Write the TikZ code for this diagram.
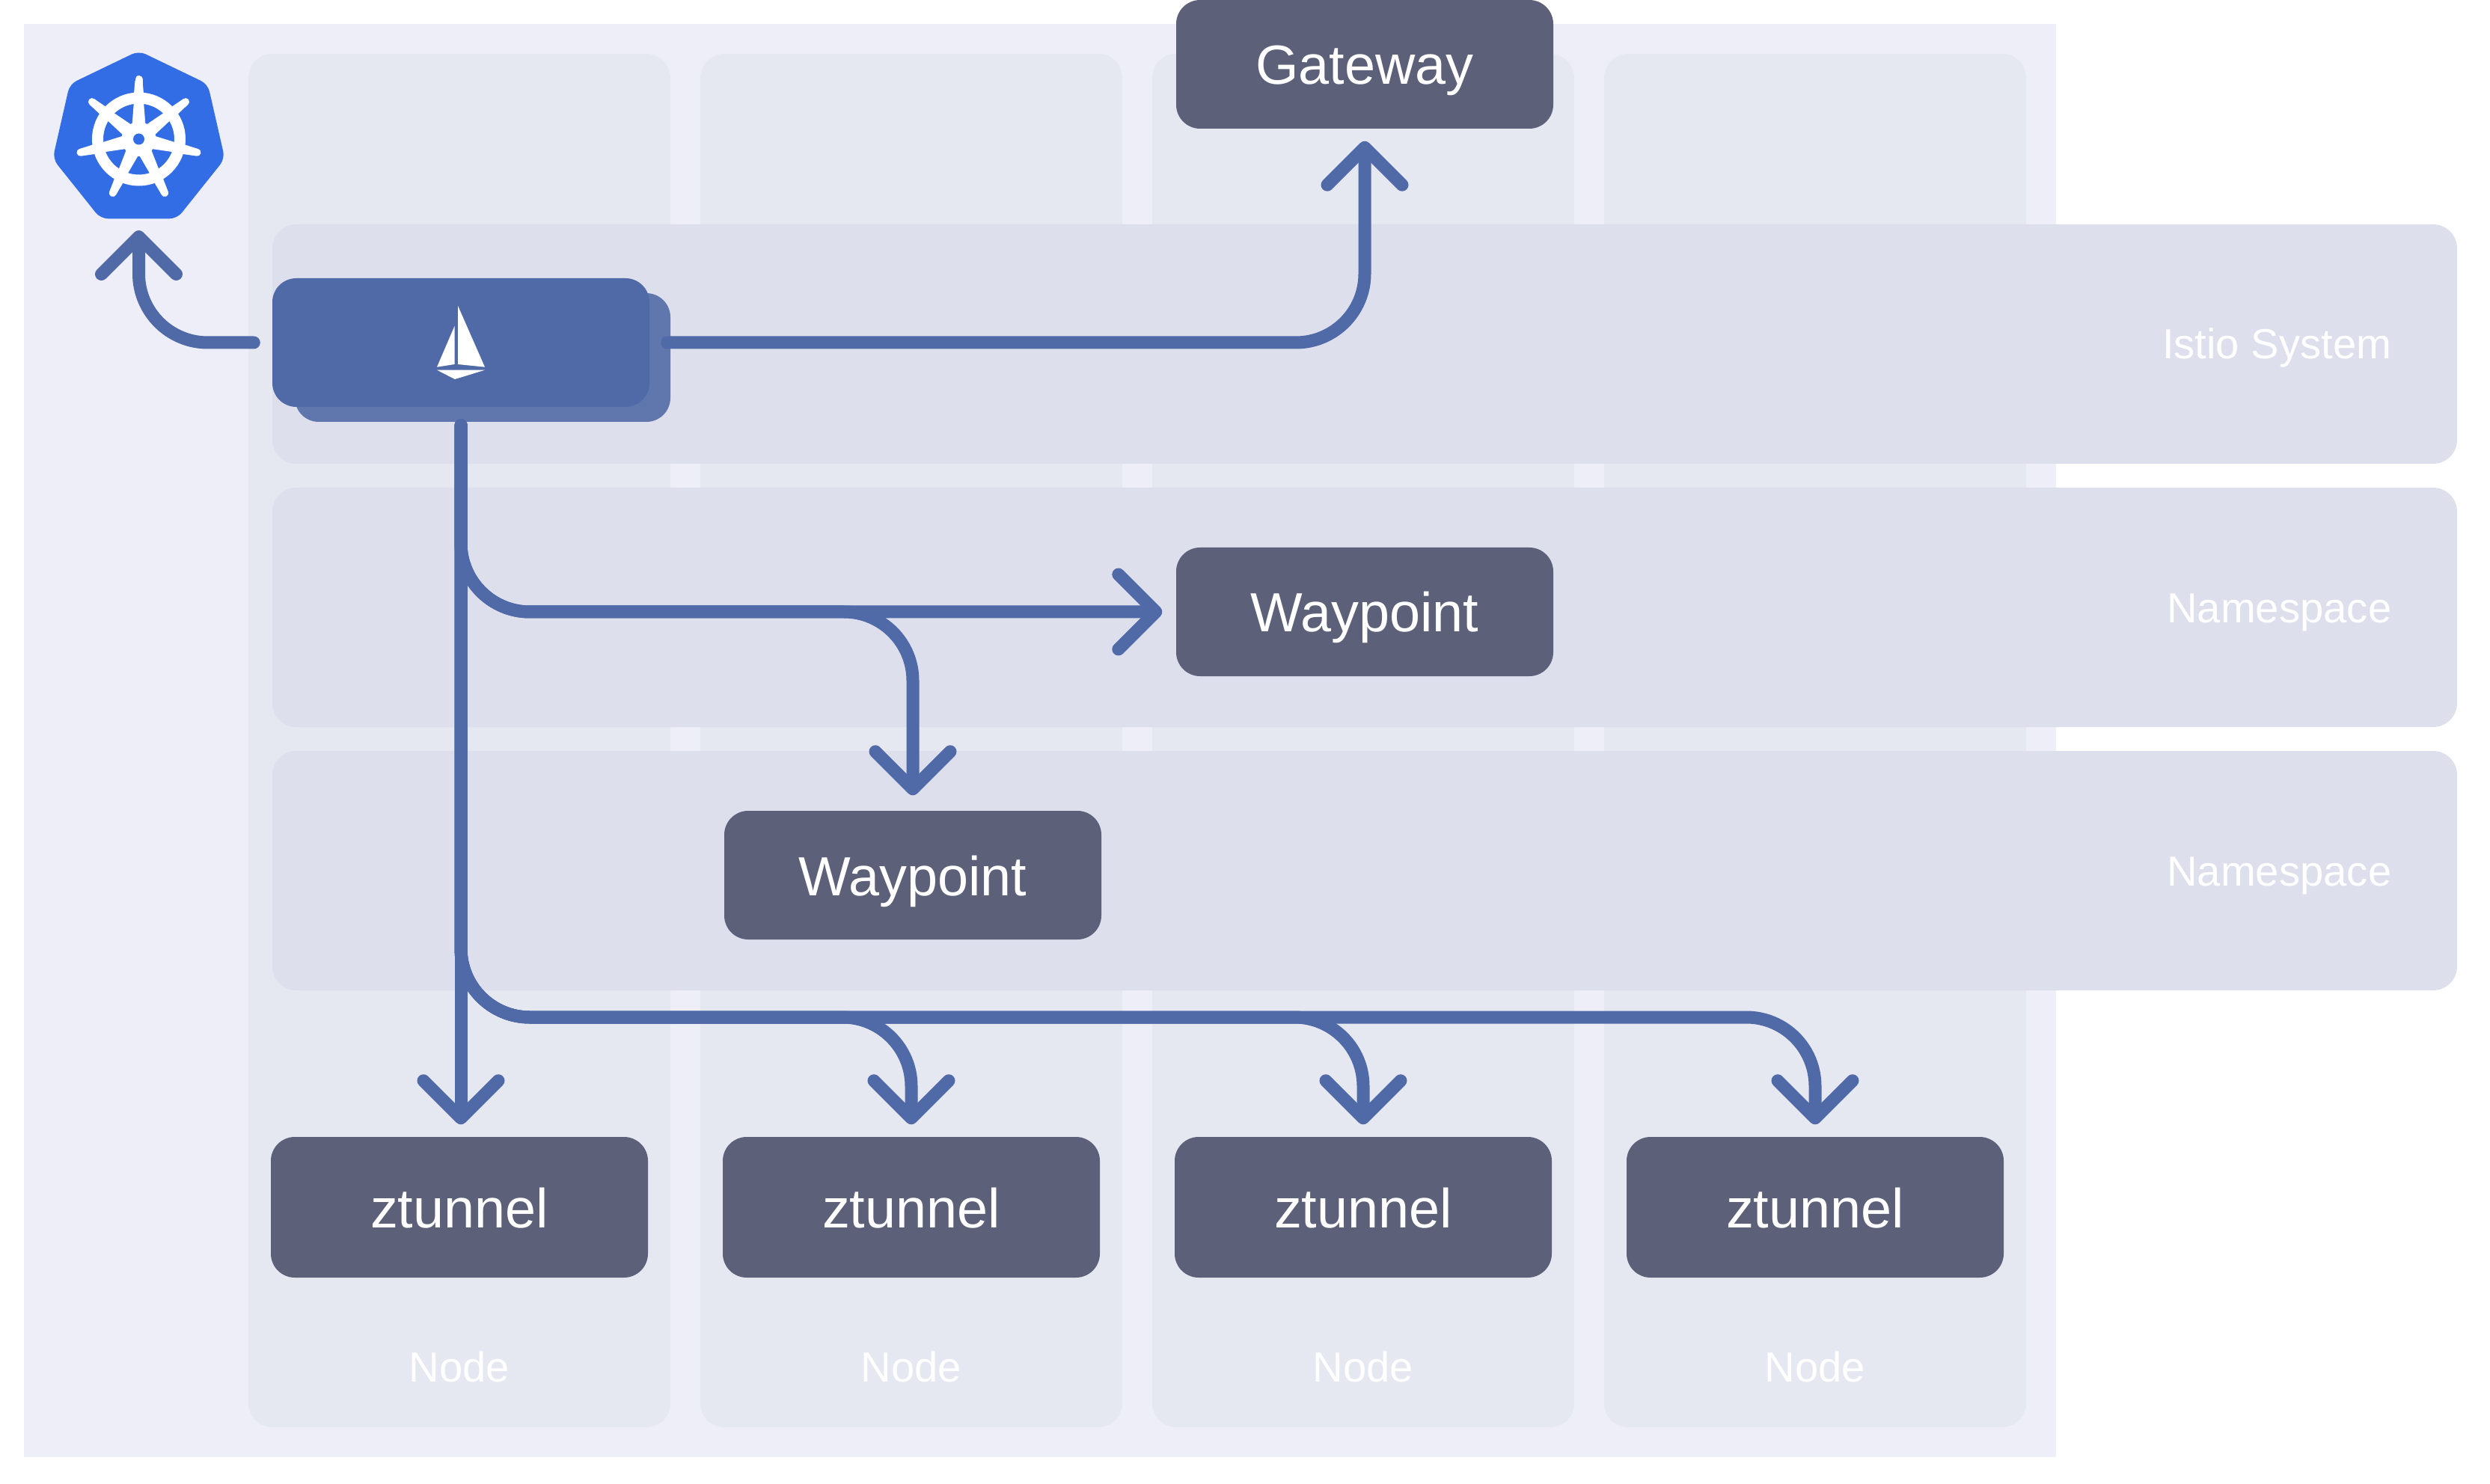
\documentclass[tikz,border=0pt]{standalone}
\usepackage{fontspec}
\setmainfont{Liberation Sans}
\usetikzlibrary{arrows.meta, shapes.geometric, positioning, calc}
\definecolor{clusterbg}{RGB}{237,238,248}
\definecolor{nodebg}{RGB}{229,231,241}
\definecolor{bandbg}{RGB}{221,223,236}
\definecolor{slatebox}{RGB}{92,96,120}
\definecolor{flowblue}{RGB}{80,106,168}
\definecolor{ctrlback}{RGB}{96,119,174}
\definecolor{kubeblue}{RGB}{50,109,230}

\begin{document}
\begin{tikzpicture}[
    cluster/.style={rectangle, fill=clusterbg, inner sep=0pt, minimum width=27.16cm, minimum height=19.16cm},
    nodecol/.style={rectangle, fill=nodebg, rounded corners=0.32cm, inner sep=0pt, minimum width=5.64cm, minimum height=18.36cm},
    band/.style={rectangle, fill=bandbg, rounded corners=0.32cm, inner sep=0pt, minimum width=29.2cm, minimum height=3.2cm},
    workload/.style={rectangle, fill=slatebox, rounded corners=0.32cm, inner sep=0pt, minimum width=5.04cm, minimum height=1.72cm, text=white, font=\fontsize{21}{21}\selectfont, text height=0.54cm, text depth=0cm},
    istiod/.style={rectangle, rounded corners=0.32cm, inner sep=0pt, minimum height=1.72cm},
    kubelogo/.style={regular polygon, regular polygon sides=7, fill=kubeblue, rounded corners=0.1cm, inner sep=0pt, minimum size=2.36cm},
    softtext/.style={text=white, font=\fontsize{16}{16}\selectfont, inner sep=0pt},
    flow/.style={draw=flowblue, line width=0.17cm, line cap=round, rounded corners=0.92cm},
    tipped/.style={-{Straight Barb[length=0.5cm, width=1cm, round]}}]
\useasboundingbox (0,0) rectangle (33.28,-19.84);
% cluster and columns
\node[cluster] (cluster) at (13.9,-9.9) {};
\node[nodecol] (col1) at (6.14,-9.9) {};
\node[nodecol] (col2) at (12.18,-9.9) {};
\node[nodecol] (col3) at (18.22,-9.9) {};
\node[nodecol] (col4) at (24.26,-9.9) {};
% bands
\node[band] (sysband) at (18.24,-4.6) {};
\node[band] (nsband1) at (18.24,-8.12) {};
\node[band] (nsband2) at (18.24,-11.64) {};
% labels
\node[softtext, anchor=base east] (syslabel) at (31.97,-4.8) {Istio System};
\node[softtext, anchor=base east] (nslabel1) at (31.97,-8.32) {Namespace};
\node[softtext, anchor=base east] (nslabel2) at (31.97,-11.84) {Namespace};
\node[softtext, anchor=base] (nodelabel1) at (6.14,-18.47) {Node};
\node[softtext, anchor=base] (nodelabel2) at (12.18,-18.47) {Node};
\node[softtext, anchor=base] (nodelabel3) at (18.22,-18.47) {Node};
\node[softtext, anchor=base] (nodelabel4) at (24.26,-18.47) {Node};
% kubernetes logo
\node[kubelogo] (kube) at (1.855,-1.86) {};
\draw[white, line width=0.15cm] (kube.center) circle (0.55cm);
\fill[white] (kube.center) circle (0.23cm);
\foreach \k in {0,...,6} {
  \begin{scope}[shift={(kube.center)}, rotate=\k*360/7]
    \fill[white] (-0.09,0.18) -- (-0.065,0.5) -- (0.065,0.5) -- (0.09,0.18) -- cycle;
    \fill[white] (-0.07,0.55) -- (-0.05,0.78) -- (0.05,0.78) -- (0.07,0.55) -- cycle;
    \draw[white, line width=0.1cm, line cap=round] (0,0.7) -- (0,0.8);
  \end{scope}
}
\fill[kubeblue] (kube.center) circle (0.075cm);
% control plane
\node[istiod, fill=ctrlback, minimum width=5.02cm] (ctrlshadow) at (6.45,-4.78) {};
\node[istiod, fill=flowblue, minimum width=5.04cm] (ctrl) at (6.16,-4.58) {};
\fill[white] (6.121,-4.09) -- (6.48,-4.907) -- (6.12,-4.87) -- cycle;
\fill[white] (6.075,-4.36) -- (6.075,-4.87) -- (5.84,-4.907) -- cycle;
\fill[white] (5.84,-4.947) -- (6.48,-4.947) -- (6.08,-5.07) -- cycle;
% workloads
\node[workload] (gateway) at (18.24,-0.86) {Gateway};
\node[workload] (wp1) at (18.24,-8.18) {Waypoint};
\node[workload] (wp2) at (12.2,-11.7) {Waypoint};
\node[workload, minimum height=1.88cm] (zt1) at (6.14,-16.14) {ztunnel};
\node[workload, minimum height=1.88cm] (zt2) at (12.18,-16.14) {ztunnel};
\node[workload, minimum height=1.88cm] (zt3) at (18.22,-16.14) {ztunnel};
\node[workload, minimum height=1.88cm] (zt4) at (24.26,-16.14) {ztunnel};
\coordinate (bus) at (6.16,-13.6);
% connectors
\draw[flow, tipped, shorten <=0.24cm, shorten >=0.15cm] (ctrl.west) -| (kube.south);
\draw[flow, tipped, shorten <=0.23cm, shorten >=0.16cm] (ctrl.east) -| (gateway.south);
\draw[flow, tipped, shorten <=0.24cm, shorten >=0.16cm] (ctrl.south) -- (ctrl.south |- zt1.north);
\draw[flow, tipped, shorten <=0.24cm, shorten >=0.18cm] (ctrl.south) |- (wp1.west);
\draw[flow, tipped, shorten <=0.24cm, shorten >=0.2cm] (ctrl.south) -- (ctrl.south |- wp1.west) -- (wp1.west -| wp2.north) -- (wp2.north);
\draw[flow, tipped, shorten <=0.24cm, shorten >=0.16cm] (ctrl.south) -- (bus) -- (bus -| zt2.north) -- (zt2.north);
\draw[flow, tipped, shorten <=0.24cm, shorten >=0.16cm] (ctrl.south) -- (bus) -- (bus -| zt3.north) -- (zt3.north);
\draw[flow, tipped, shorten <=0.24cm, shorten >=0.16cm] (ctrl.south) -- (bus) -- (bus -| zt4.north) -- (zt4.north);
\end{tikzpicture}
\end{document}
